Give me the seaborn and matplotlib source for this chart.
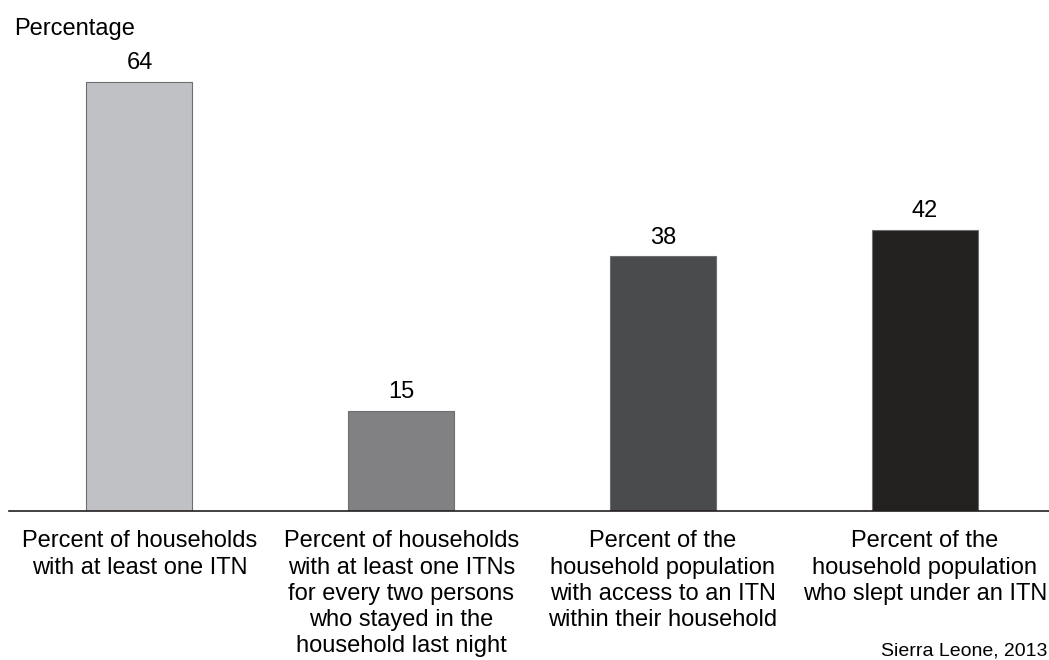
import matplotlib
matplotlib.use("Agg")
import matplotlib.pyplot as plt
import seaborn as sns
import pandas as pd

# data
categories = [
    "Percent of households\nwith at least one ITN",
    "Percent of households\nwith at least one ITNs\nfor every two persons\nwho stayed in the\nhousehold last night",
    "Percent of the\nhousehold population\nwith access to an ITN\nwithin their household",
    "Percent of the\nhousehold population\nwho slept under an ITN",
]
values = [64, 15, 38, 42]
bar_colors = ["#c0c1c4", "#808184", "#4a4b4d", "#231f20"]

sns.set_style("white")
plt.rcParams["font.family"] = ["Liberation Sans", "DejaVu Sans"]
plt.rcParams["text.color"] = "black"
plt.rcParams["xtick.color"] = "black"

df = pd.DataFrame({"cat": categories, "val": values})

fig = plt.figure(figsize=(10.49, 6.60), dpi=100)
# baseline at y=511px, 6.70 px per unit
ax = fig.add_axes([8.6 / 1049, 149 / 660, 1047 / 1049, 469 / 660])
sns.barplot(data=df, x="cat", y="val", hue="cat", palette=bar_colors,
            legend=False, width=0.405, edgecolor="#6d6e71", linewidth=0.8,
            ax=ax)
ax.set_xlim(-0.5, 3.5)
ax.set_ylim(0, 70)

for i, v in enumerate(values):
    ax.text(i, v + 1.15, str(v), ha="center", va="bottom", fontsize=17)

sns.despine(ax=ax, left=True)
ax.spines["bottom"].set_color("#231f20")
ax.spines["bottom"].set_linewidth(1.2)
ax.set_yticks([])
ax.set_xlabel("")
ax.set_ylabel("")
ax.tick_params(axis="x", length=0, pad=14, labelsize=17)
for lbl in ax.get_xticklabels():
    lbl.set_linespacing(1.25)

fig.text(14 / 1049, 1 - 29 / 660, "Percentage", ha="left", va="center",
         fontsize=17)
fig.text(1047 / 1049, 1 / 660, "Sierra Leone, 2013", ha="right",
         va="bottom", fontsize=14)

fig.savefig("out.png", dpi=100)
